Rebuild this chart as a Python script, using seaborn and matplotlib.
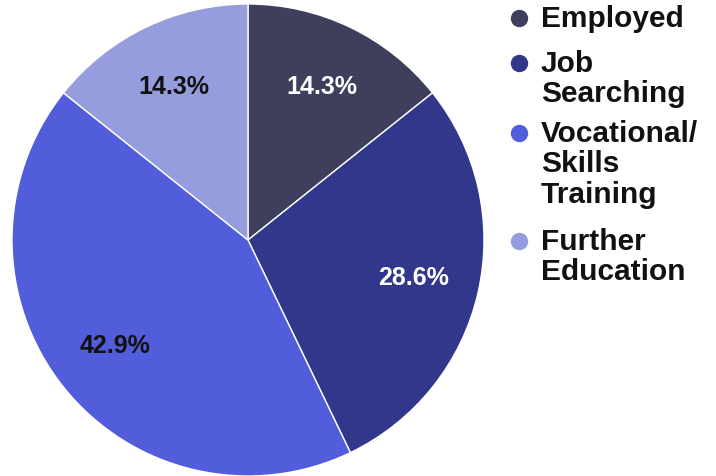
import matplotlib
matplotlib.use("Agg")
import matplotlib.pyplot as plt
from matplotlib.lines import Line2D
import seaborn as sns

categories = ["Employed", "Job Searching", "Vocational/Skills Training", "Further Education"]
legend_lines = [["Employed"], ["Job", "Searching"], ["Vocational/", "Skills", "Training"], ["Further", "Education"]]
values = [1, 2, 3, 1]
colors = ["#3d3f5c", "#31378a", "#525ddb", "#959ddf"]
label_colors = ["white", "white", "#111111", "#111111"]

sns.set_theme(style="white")
plt.rcParams["font.family"] = ["Liberation Sans", "DejaVu Sans"]

W, H = 716, 476
fig = plt.figure(figsize=(W / 100, H / 100), dpi=100)
cx, cy, r = 248, 240, 236
ax = fig.add_axes([(cx - r) / W, (H - cy - r) / H, 2 * r / W, 2 * r / H])

palette = sns.color_palette(colors)
wedges, texts, autotexts = ax.pie(
    values, colors=palette, startangle=90, counterclock=False,
    autopct="%1.1f%%", pctdistance=0.72,
    wedgeprops=dict(edgecolor="white", linewidth=1),
    textprops=dict(fontsize=18, fontweight="bold"),
)
for t, c in zip(autotexts, label_colors):
    t.set_color(c)
ax.set_xlim(-1, 1)
ax.set_ylim(-1, 1)
ax.set_aspect("equal")
ax.axis("off")

# Legend: bullet plus bold wrapped label, first line aligned with the bullet
first_baselines = [27, 72, 142, 250]
line_h = 30.5
text_x = 541
bullet_x = 519
for lines, color, yb in zip(legend_lines, colors, first_baselines):
    fig.add_artist(Line2D([bullet_x / W], [(H - (yb - 9)) / H], marker="o", markersize=11.5,
                          color=color, linestyle="none", transform=fig.transFigure))
    for i, line in enumerate(lines):
        fig.text(text_x / W, (H - (yb + i * line_h)) / H, line, fontsize=21.5,
                 fontweight="bold", color="#111111", ha="left", va="baseline")

fig.savefig("out.png", dpi=100)
